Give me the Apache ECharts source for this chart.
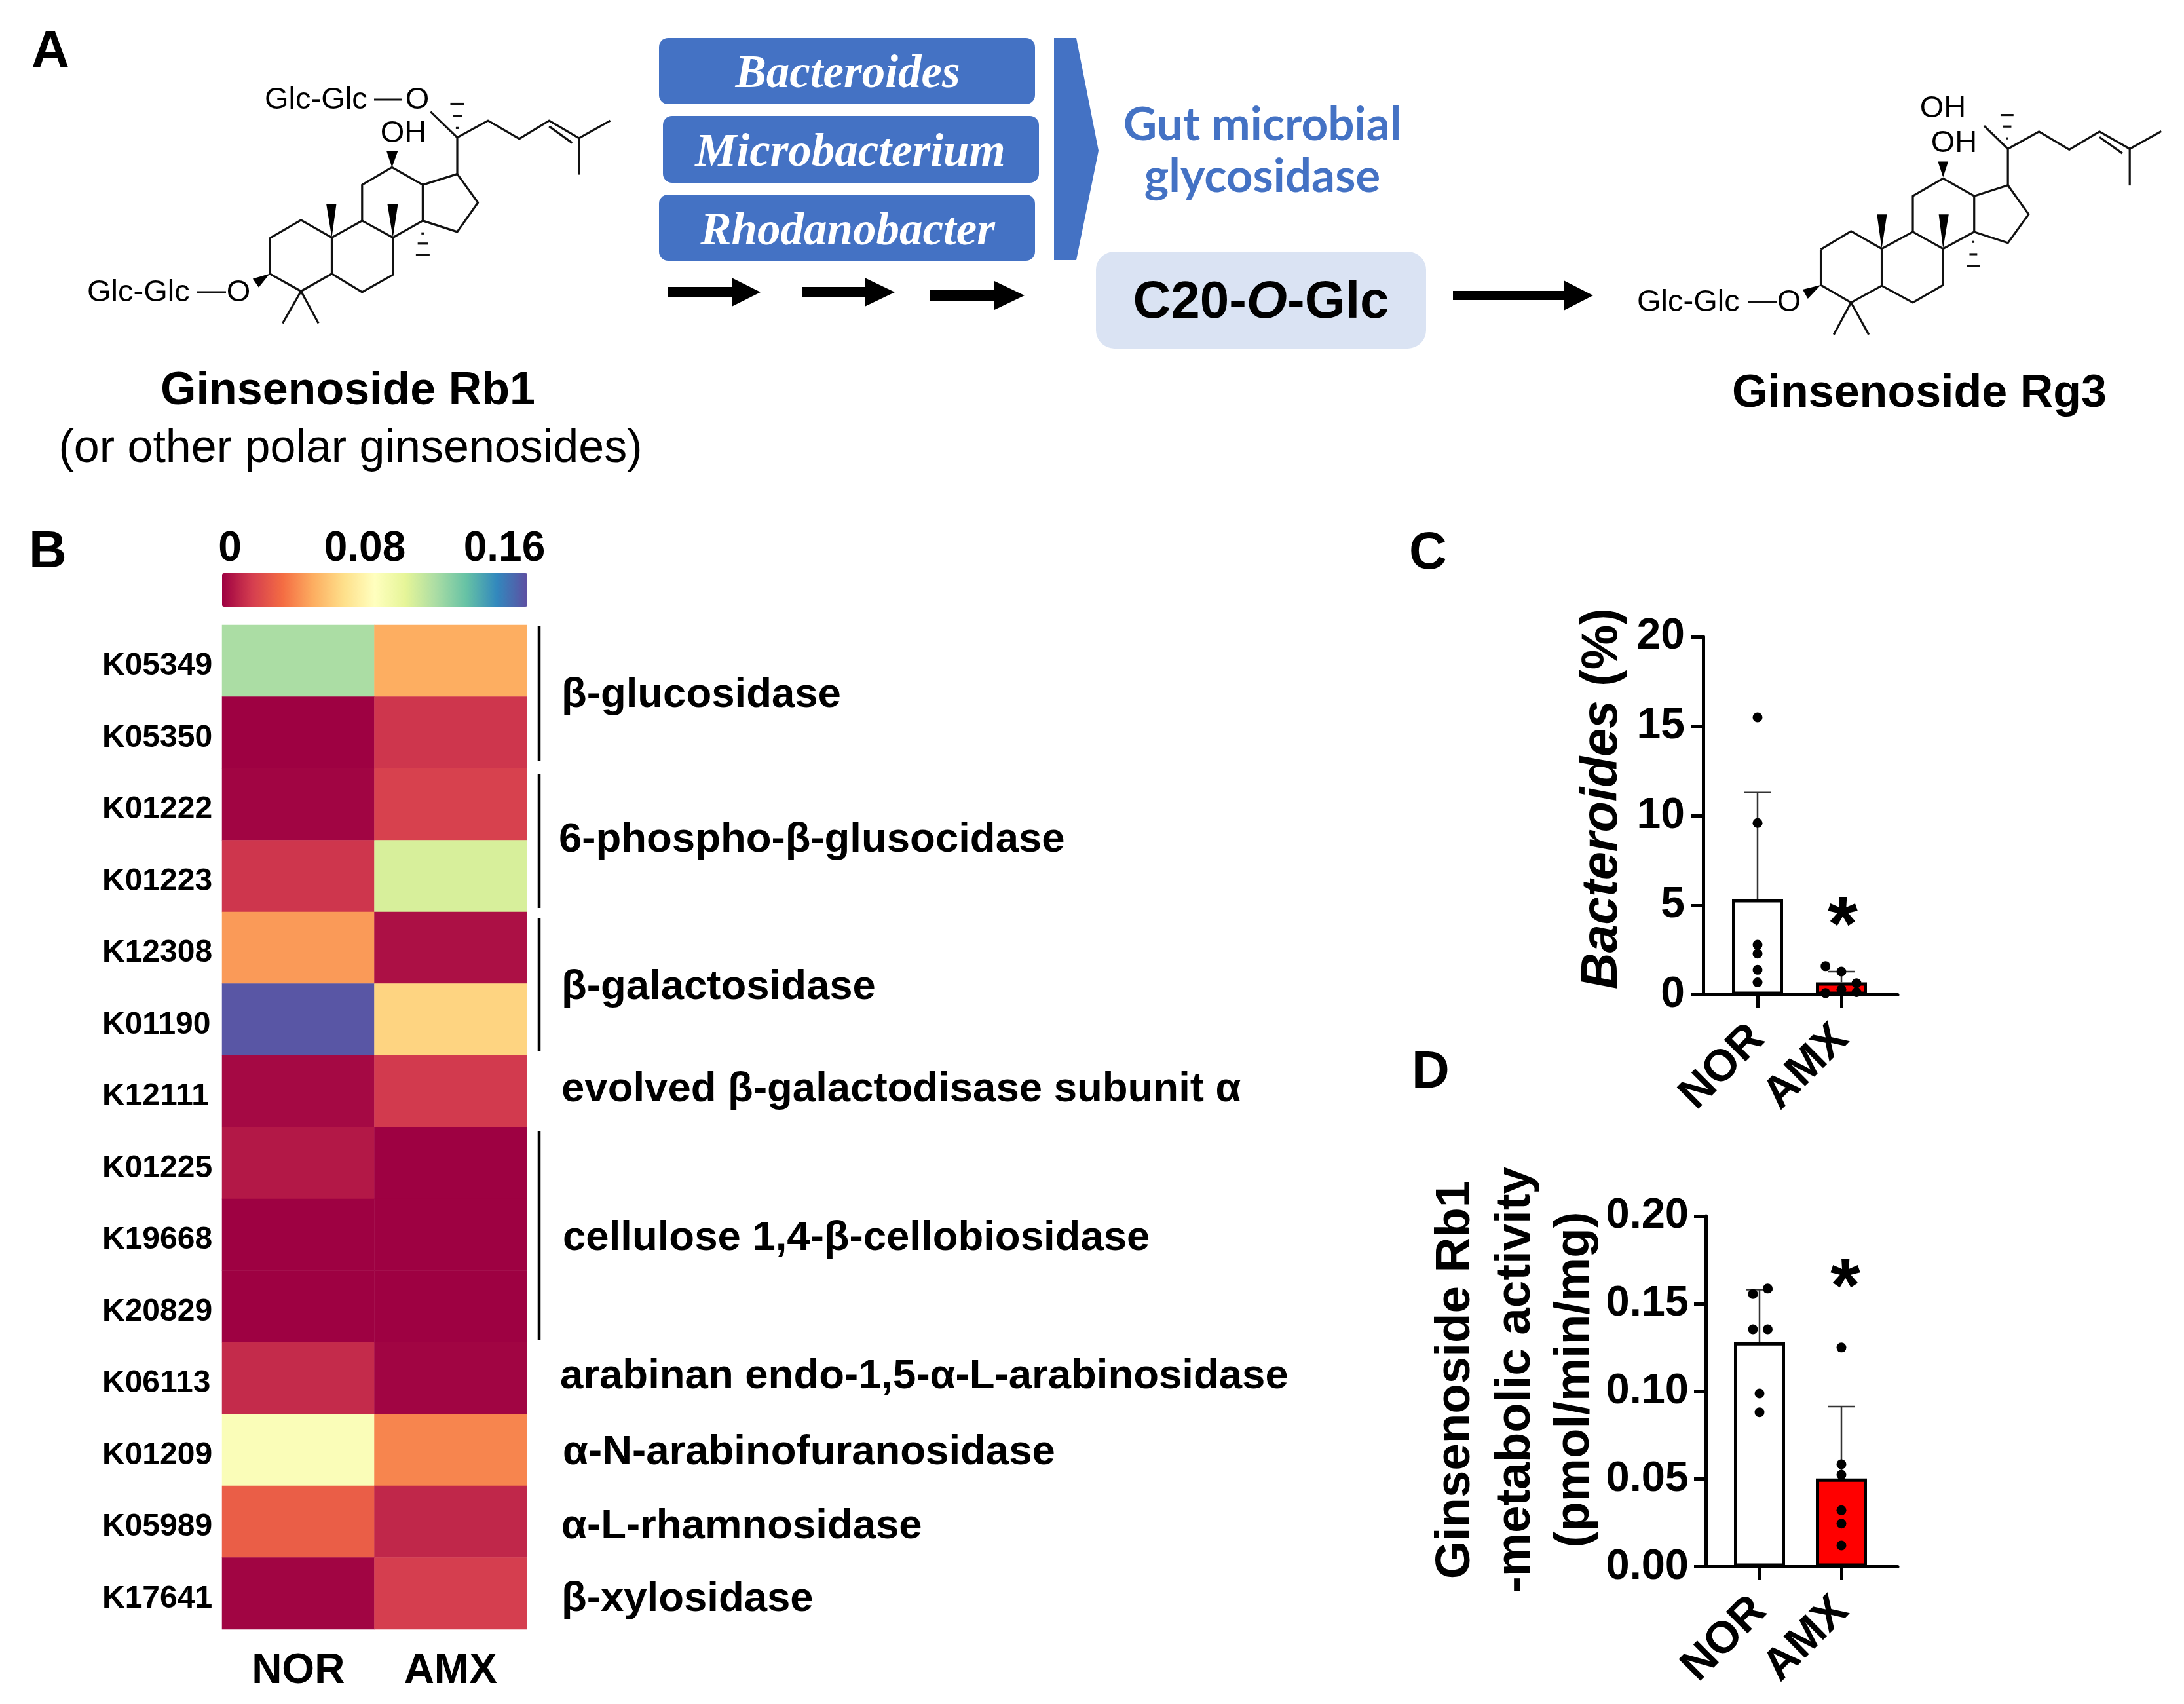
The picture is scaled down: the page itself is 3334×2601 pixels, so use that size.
<!DOCTYPE html>
<html><head><meta charset="utf-8">
<style>html,body{margin:0;padding:0;background:#fff}#c{width:3334px;height:2601px}</style>
<script src="https://cdn.jsdelivr.net/npm/echarts@6/dist/echarts.min.js"></script>
</head><body><div id="c"></div>
<script>
// ---------- data ----------
const keggIds = ['K05349','K05350','K01222','K01223','K12308','K01190','K12111','K01225','K19668','K20829','K06113','K01209','K05989','K17641'];
const heatGroups = ['NOR','AMX'];
const heatNOR = [0.112,0,0.001,0.014,0.043,0.158,0.002,0.006,0,0,0.011,0.083,0.027,0.001];
const heatAMX = [0.048,0.014,0.017,0.1,0.004,0.06,0.015,0,0,0,0.001,0.038,0.01,0.016];
const spectral = ['#9e0142','#d53e4f','#f46d43','#fdae61','#fee08b','#ffffbf','#e6f598','#abdda4','#66c2a5','#3288bd','#5e4fa2'];
const barGroups = ['NOR','AMX'];
const bactMean = [5.35,0.7];
const bactUpper = [11.3,1.3];
const bactNORPoints = [15.5,9.6,2.8,2.3,1.4,0.7];
const bactAMXPoints = [1.6,1.3,0.65,0.1,0.3,0.15];
const bactAMXOffsets = [-0.19,0,0.18,-0.19,0,0.18];
const rb1Mean = [0.128,0.0504];
const rb1Upper = [0.158,0.0913];
const rb1NORPoints = [0.1555,0.1586,0.1354,0.1354,0.0988,0.0881];
const rb1NOROffsets = [-0.08,0.1,-0.08,0.1,0,0];
const rb1AMXPoints = [0.125,0.0585,0.0525,0.0322,0.0246,0.0122];
const bactTicks = [0,5,10,15,20];
const rb1Ticks = [0,0.05,0.10,0.15,0.20];
const enzymeLabels = [
 ['β-glucosidase',857,1057],['6-phospho-β-glusocidase',853,1278],['β-galactosidase',857,1503],
 ['evolved β-galactodisase subunit α',857,1659],['cellulose 1,4-β-cellobiosidase',859,1886],
 ['arabinan endo-1,5-α-L-arabinosidase',855,2097],['α-N-arabinofuranosidase',859,2213],
 ['α-L-rhamnosidase',857,2326],['β-xylosidase',857,2437]];
const brackets = [[956,1162],[1181,1386],[1401,1605],[1726,2045]];

// ---------- helpers ----------
const FONT='"Liberation Sans"';
const g=[];
function txt(text,x,y,o={}){g.push({type:'text',x,y:o.rot?y:y+4,rotation:o.rot||0,silent:true,z:20,style:Object.assign({text,font:`${o.style||''} ${o.w||'bold'} ${o.size||60}px ${o.family||FONT}`,fill:o.fill||'#000',align:o.align||'center',verticalAlign:'middle'},o.extra||{})});}
function line(pts,w=3.2,c='#111'){g.push({type:'polyline',silent:true,z:10,shape:{points:pts},style:{stroke:c,lineWidth:w,fill:null,lineJoin:'round'}});}
function poly(pts,c='#000'){g.push({type:'polygon',silent:true,z:10,shape:{points:pts},style:{fill:c}});}
function rrect(x,y,w,h,r,c){g.push({type:'rect',silent:true,z:5,shape:{x,y,width:w,height:h,r},style:{fill:c}});}
function arrow(x0,x1,hx,y,sh,hh){poly([[x0,y-sh],[hx,y-sh],[hx,y-hh],[x1,y],[hx,y+hh],[hx,y+sh],[x0,y+sh]]);}

// molecule skeleton, traced per molecule
function molecule(m,fx,fy,ox,oy){
 const P=p=>[p[0]/fx+ox,p[1]/fy+oy];
 m.lines.forEach(l=>line(l.map(P)));
 m.wedges.forEach(l=>poly(l.map(P)));
 m.hashes.forEach(h=>{const a=P([h[0]-h[2]/2,h[1]]),b=P([h[0]+h[2]/2,h[1]]);line([a,b],3.2);});
}
const molA={lines:[
 [[587,750],[655,693],[722,748],[722,862],[655,917],[587,862],[587,750]],
 [[722,748],[788,695],[855,748],[855,865],[788,920],[722,862]],
 [[788,695],[788,582],[853,527],[920,582],[920,695],[855,748]],
 [[920,582],[995,548],[1040,638],[995,730],[920,695]],
 [[995,548],[995,433],[1062,380],[1130,437],[1195,380],[1260,435],[1328,380]],
 [[1260,435],[1260,550]],[[1195,398],[1245,450]],[[995,433],[937,352]],
 [[655,917],[615,1018]],[[655,917],[693,1018]]],
 wedges:[[[722,748],[710,642],[732,642]],[[855,748],[843,642],[866,642]],[[853,527],[841,475],[866,475]],[[587,862],[550,878],[563,905]]],
 hashes:[[920,735,6],[920,767,22],[920,802,30],[995,403,6],[995,365,20],[995,327,30]]};
const molB={lines:[
 [[727,838],[797,765],[868,835],[868,983],[797,1050],[727,980],[727,838]],
 [[868,835],[940,768],[1010,835],[1010,980],[940,1050],[868,983]],
 [[940,768],[940,625],[1010,555],[1082,625],[1082,768],[1010,835]],
 [[1082,625],[1160,582],[1208,698],[1160,812],[1082,768]],
 [[1160,582],[1160,437],[1232,368],[1302,440],[1372,368],[1442,437],[1515,367]],
 [[1442,437],[1442,583]],[[1372,390],[1425,455]],[[1160,437],[1105,345]],
 [[797,1050],[757,1178]],[[797,1050],[838,1178]]],
 wedges:[[[868,835],[857,698],[880,698]],[[1010,835],[1000,698],[1023,698]],[[1010,550],[998,487],[1022,487]],[[727,980],[685,998],[697,1035]]],
 hashes:[[1080,808,5],[1080,857,18],[1080,905,30],[1158,395,5],[1158,348,20],[1158,302,30]]};
molecule(molA,1.4255,2.063,0,0);
molecule(molB,1.516,2.613,2300,60);
// molecule labels
const thin={w:'normal',size:47};
txt('Glc-Glc',133,443,Object.assign({align:'left'},thin)); line([[300,446],[345,446]],3.2); txt('O',364,443,thin);
txt('Glc-Glc',404,149,Object.assign({align:'left'},thin)); line([[571,152],[614,152]],3.2); txt('O',637,149,thin);
txt('OH',616,200,thin);
txt('Glc-Glc',2499,458,Object.assign({align:'left'},thin)); line([[2668,461],[2713,461]],3.2); txt('O',2731,458,thin);
txt('OH',2966,162,thin); txt('OH',2983,215,thin);

// panel letters
txt('A',77,76,{size:80}); txt('B',73,840,{size:80}); txt('C',2180,842,{size:80}); txt('D',2184,1634,{size:80});

// Panel A texts
txt('Ginsenoside Rb1',531,594,{size:70});
txt('(or other polar ginsenosides)',535,682,{w:'normal',size:70});
txt('Ginsenoside Rg3',2930,598,{size:70});
rrect(1006,58,574,101,14,'#4472c4'); rrect(1012,177,574,102,14,'#4472c4'); rrect(1006,297,574,101,14,'#4472c4');
const SERIF='"Liberation Serif"';
[['Bacteroides',1294,111],['Microbacterium',1298,231],['Rhodanobacter',1294,351]].forEach(t=>txt(t[0],t[1],t[2],{size:71,style:'italic',family:SERIF,fill:'#fff'}));
poly([[1609,58],[1643,58],[1677,230],[1643,397],[1609,397]],'#4472c4');
txt('Gut microbial',1927,187,{size:71,family:'Lato',fill:'#4472c4'});
txt('glycosidase',1927,266,{size:71,family:'Lato',fill:'#4472c4'});
rrect(1673,384,504,148,28,'#dae3f3');
g.push({type:'text',x:1925,y:463,silent:true,z:20,style:{text:'{n|C20-}{i|O}{n|-Glc}',align:'center',verticalAlign:'middle',rich:{n:{font:`bold 80px ${FONT}`,fill:'#000'},i:{font:`italic bold 80px ${FONT}`,fill:'#000'}}}});
arrow(1020,1161,1117,446,8,22); arrow(1224,1366,1320,446,8,22); arrow(1420,1564,1518,451,8,22);
arrow(2218,2432,2387,451,7,23);

// Panel B annotation
brackets.forEach(b=>line([[823,b[0]],[823,b[1]]],4.5,'#000'));
enzymeLabels.forEach(e=>txt(e[0],e[1],e[2],{align:'left',size:63.5}));
[['0',351],['0.08',557],['0.16',770]].forEach(t=>txt(t[0],t[1],834,{size:64}));

// C, D texts
g.push({type:'text',x:2447,y:1219,rotation:Math.PI/2,silent:true,z:20,style:{text:'{i|Bacteroides\u00a0}{n|(%)}',align:'center',verticalAlign:'middle',rich:{i:{font:`italic bold 77px ${FONT}`,fill:'#000'},n:{font:`bold 77px ${FONT}`,fill:'#000'}}}});
txt('Ginsenoside Rb1',2222,2106,{rot:Math.PI/2,size:74.5});
txt('-metabolic activity',2314,2106,{rot:Math.PI/2,size:74.5});
txt('(pmol/min/mg)',2404,2106,{rot:Math.PI/2,size:74.5});
txt('*',2813,1414,{size:118}); txt('*',2817,1966,{size:118});

// ---------- series helpers ----------
function heatData(){const d=[];keggIds.forEach((k,i)=>{d.push([0,i,heatNOR[i]]);d.push([1,i,heatAMX[i]]);});return d;}
const errRender=(p,api)=>{const x=api.value(0),a=api.coord([x,api.value(1)]),b=api.coord([x,api.value(2)]);
 return {type:'group',children:[
  {type:'line',shape:{x1:a[0],y1:a[1],x2:b[0],y2:b[1]},style:{stroke:'#333',lineWidth:2.5}},
  {type:'line',shape:{x1:b[0]-21,y1:b[1],x2:b[0]+21,y2:b[1]},style:{stroke:'#333',lineWidth:2.5}}]};};
const valX=(grid,min,max)=>({type:'value',gridIndex:grid,min,max,splitLine:{show:false},
 axisLine:{show:true,onZero:false,lineStyle:{color:'#000',width:5}},
 axisTick:{show:true,length:20,lineStyle:{color:'#000',width:5},customValues:[1,2]},
 axisLabel:{show:true,customValues:[1,2],rotate:45,margin:57,hideOverlap:false,showMinLabel:true,showMaxLabel:true,
  fontFamily:FONT,fontWeight:'bold',fontSize:68,color:'#000',formatter:v=>barGroups[Math.round(v)-1]}});
const valY=(grid,max,ticks,dec,size,margin)=>({type:'value',gridIndex:grid,min:0,max,splitLine:{show:false},
 axisLine:{show:true,lineStyle:{color:'#000',width:5}},
 axisTick:{show:true,length:18,lineStyle:{color:'#000',width:5},customValues:ticks},
 axisLabel:{show:true,customValues:ticks,margin,fontFamily:FONT,fontWeight:'bold',fontSize:size,color:'#000',formatter:v=>v.toFixed(dec)}});
const bars=(x,y,mean)=>({type:'bar',xAxisIndex:x,yAxisIndex:y,barWidth:78,z:2,
 data:[{value:[1,mean[0]],itemStyle:{color:'#fff',borderColor:'#000',borderWidth:5}},{value:[2,mean[1]],itemStyle:{color:'#ff0000',borderColor:'#000',borderWidth:5}}]});
const errs=(x,y,mean,up)=>({type:'custom',xAxisIndex:x,yAxisIndex:y,z:3,renderItem:errRender,data:[[1,mean[0],up[0]],[2,mean[1],up[1]]]});
const dots=(x,y,data)=>({type:'scatter',xAxisIndex:x,yAxisIndex:y,z:4,symbolSize:15,itemStyle:{color:'#000',opacity:1},data});

const option={
 backgroundColor:'#fff',animation:false,
 textStyle:{fontFamily:FONT},
 grid:[
  {left:339,top:954,width:465,height:1533},
  {left:2600,top:972,width:297,height:546.6},
  {left:2604,top:1856,width:293,height:535.6}],
 xAxis:[
  {type:'category',gridIndex:0,data:heatGroups,position:'bottom',axisLine:{show:false},axisTick:{show:false},splitLine:{show:false},
   axisLabel:{fontFamily:FONT,fontWeight:'bold',fontSize:64,color:'#000',margin:32}},
  valX(1,1-83/128,1-83/128+297/128),
  valX(2,1-82/125,1-82/125+293/125)],
 yAxis:[
  {type:'category',gridIndex:0,data:keggIds,inverse:true,axisLine:{show:false},axisTick:{show:false},splitLine:{show:false},
   axisLabel:{fontFamily:FONT,fontWeight:'bold',fontSize:48,color:'#000',margin:183,align:'left',verticalAlign:'top',lineHeight:17,interval:0}},
  valY(1,20,bactTicks,0,66,28),
  valY(2,0.20,rb1Ticks,2,65,26)],
 visualMap:{type:'continuous',seriesIndex:0,min:0,max:0.16,orient:'horizontal',left:339,top:875,itemHeight:466,itemWidth:51,
  calculable:false,realtime:false,showLabel:false,text:null,inRange:{color:spectral},textStyle:{fontSize:0},padding:0},
 series:[
  {type:'heatmap',xAxisIndex:0,yAxisIndex:0,data:heatData(),itemStyle:{borderWidth:0}},
  bars(1,1,bactMean),errs(1,1,bactMean,bactUpper),
  dots(1,1,bactNORPoints.map(v=>[1,v])),
  dots(1,1,bactAMXPoints.map((v,i)=>[2+bactAMXOffsets[i],v])),
  bars(2,2,rb1Mean),errs(2,2,rb1Mean,rb1Upper),
  dots(2,2,rb1NORPoints.map((v,i)=>[1+rb1NOROffsets[i],v])),
  dots(2,2,rb1AMXPoints.map(v=>[2,v]))],
 graphic:{elements:g}
};
const chart=echarts.init(document.getElementById('c'),null,{width:3334,height:2601});
chart.setOption(option);
</script></body></html>
